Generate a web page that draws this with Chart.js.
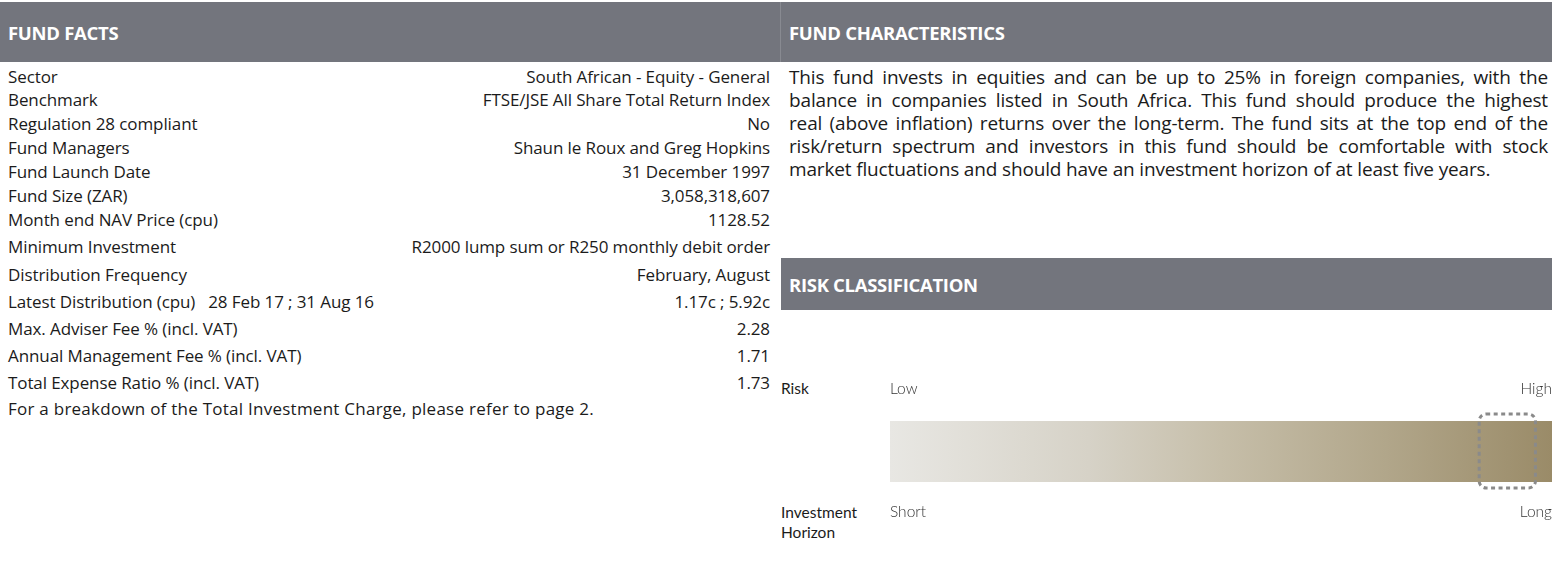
<!DOCTYPE html>
<html>
<head>
<meta charset="utf-8">
<script src="https://cdn.jsdelivr.net/npm/chart.js@4"></script>
<style>
  html, body { margin:0; padding:0; background:#fff; }
  body { width:1552px; height:573px; position:relative; overflow:hidden; font-family:"Open Sans", Lato, sans-serif; color:#1b1b1b; }
  .band { position:absolute; background:#73757d; color:#fff; font-weight:700; font-size:18.5px; box-sizing:border-box; padding-left:8px; display:flex; align-items:center; letter-spacing:-0.3px; }
  .row { position:absolute; left:8px; width:762px; height:22px; line-height:22px; font-size:17px; white-space:pre; letter-spacing:-0.1px; }
  .row .v { position:absolute; right:0; top:0; }
  .row.note { letter-spacing:0.25px; }
  .para { position:absolute; left:789px; width:759px; top:66px; font-size:19px; line-height:23px; letter-spacing:-0.15px; }
  .para div { text-align:justify; text-align-last:justify; white-space:nowrap; }
  .para div.last { text-align-last:left; }
  .lbl { position:absolute; left:781px; font-family:Lato, sans-serif; font-size:15.5px; line-height:20px; }
  #wrap { position:absolute; left:890px; top:378px; width:662px; height:150px; }
</style>
</head>
<body>
<div class="band" style="left:0;top:2px;width:780px;height:60px;">FUND FACTS</div>
<div style="position:absolute;left:780px;top:2px;width:1px;height:60px;background:#888a91;"></div>
<div class="band" style="left:781px;top:2px;width:771px;height:60px;">FUND CHARACTERISTICS</div>
<div class="band" style="left:781px;top:258px;width:771px;height:52px;">RISK CLASSIFICATION</div>

<div id="facts"></div>

<div class="para">
  <div>This fund invests in equities and can be up to 25% in foreign companies, with the</div>
  <div>balance in companies listed in South Africa. This fund should produce the highest</div>
  <div>real (above inflation) returns over the long-term. The fund sits at the top end of the</div>
  <div>risk/return spectrum and investors in this fund should be comfortable with stock</div>
  <div class="last">market fluctuations and should have an investment horizon of at least five years.</div>
</div>

<div class="lbl" style="top:378px;">Risk</div>
<div class="lbl" style="top:502px;">Investment<br>Horizon</div>

<div id="wrap"><canvas id="c"></canvas></div>

<script>
// ---- data ----
const factLabels = [
  "Sector", "Benchmark", "Regulation 28 compliant", "Fund Managers", "Fund Launch Date",
  "Fund Size (ZAR)", "Month end NAV Price (cpu)", "Minimum Investment", "Distribution Frequency",
  "Latest Distribution (cpu)   28 Feb 17 ; 31 Aug 16", "Max. Adviser Fee % (incl. VAT)",
  "Annual Management Fee % (incl. VAT)", "Total Expense Ratio % (incl. VAT)"
];
const factValues = [
  "South African - Equity - General", "FTSE/JSE All Share Total Return Index", "No",
  "Shaun le Roux and Greg Hopkins", "31 December 1997", "3,058,318,607", "1128.52",
  "R2000 lump sum or R250 monthly debit order", "February, August", "1.17c ; 5.92c",
  "2.28", "1.71", "1.73"
];
const footNote = "For a breakdown of the Total Investment Charge, please refer to page 2.";
const riskCategories = ["Risk"];
const riskRange = [0, 100];
const riskMarker = [89, 97.5];
const riskTickLabels = ["Low", "High"];
const horizonTickLabels = ["Short", "Long"];

// ---- fund facts table ----
const rowCenters = [77, 100, 124, 148, 172, 196, 220, 247, 275, 302, 329, 356, 383];
const facts = document.getElementById('facts');
factLabels.forEach((l, i) => {
  const r = document.createElement('div');
  r.className = 'row';
  r.style.top = (rowCenters[i] - 11) + 'px';
  r.innerHTML = '<span></span><span class="v"></span>';
  r.children[0].textContent = l;
  r.children[1].textContent = factValues[i];
  facts.appendChild(r);
});
const f = document.createElement('div');
f.className = 'row note';
f.style.top = '398px';
f.textContent = footNote;
facts.appendChild(f);

// ---- risk chart ----
const markerPlugin = {
  id: 'marker',
  afterDatasetsDraw(chart) {
    const x = chart.scales.x;
    const a = chart.chartArea;
    const c = chart.ctx;
    // highlighted risk level
    const l = x.getPixelForValue(riskMarker[0]);
    const r = x.getPixelForValue(riskMarker[1]);
    const t = a.top - 7, b = a.bottom + 6;
    c.save();
    c.strokeStyle = '#8a8a8a';
    c.lineWidth = 3;
    c.setLineDash([4, 3.5]);
    c.beginPath();
    c.roundRect(l, t, r - l, b - t, 7);
    c.stroke();
    c.restore();
    // end labels of the scale
    c.save();
    c.fillStyle = '#333';
    c.font = '300 15.5px Lato, sans-serif';
    c.textBaseline = 'middle';
    const x0 = x.getPixelForValue(riskRange[0]);
    const x1 = x.getPixelForValue(riskRange[1]);
    c.textAlign = 'left';
    c.fillText(riskTickLabels[0], x0, a.top - 32);
    c.fillText(horizonTickLabels[0], x0, a.bottom + 30);
    c.textAlign = 'right';
    c.fillText(riskTickLabels[1], x1, a.top - 32);
    c.fillText(horizonTickLabels[1], x1, a.bottom + 30);
    c.restore();
  }
};

new Chart(document.getElementById('c'), {
  type: 'bar',
  data: {
    labels: riskCategories,
    datasets: [{
      data: [riskRange.slice()],
      barPercentage: 1,
      categoryPercentage: 1,
      borderWidth: 0,
      backgroundColor: (ctx) => {
        const ch = ctx.chart, a = ch.chartArea;
        if (!a) return '#c4bba6';
        const g = ch.ctx.createLinearGradient(a.left, 0, a.right, 0);
        g.addColorStop(0, '#e8e7e3');
        g.addColorStop(0.3, '#d6d2c7');
        g.addColorStop(0.5, '#c6bea9');
        g.addColorStop(0.75, '#b1a68a');
        g.addColorStop(1, '#9a8b68');
        return g;
      }
    }]
  },
  options: {
    indexAxis: 'y',
    responsive: true,
    maintainAspectRatio: false,
    animation: false,
    layout: { padding: { top: 43, bottom: 46, left: 0, right: 0 } },
    plugins: { legend: { display: false }, tooltip: { enabled: false } },
    scales: {
      y: { display: false },
      x: { display: false, min: riskRange[0], max: riskRange[1] }
    }
  },
  plugins: [markerPlugin]
});
</script>
</body>
</html>
